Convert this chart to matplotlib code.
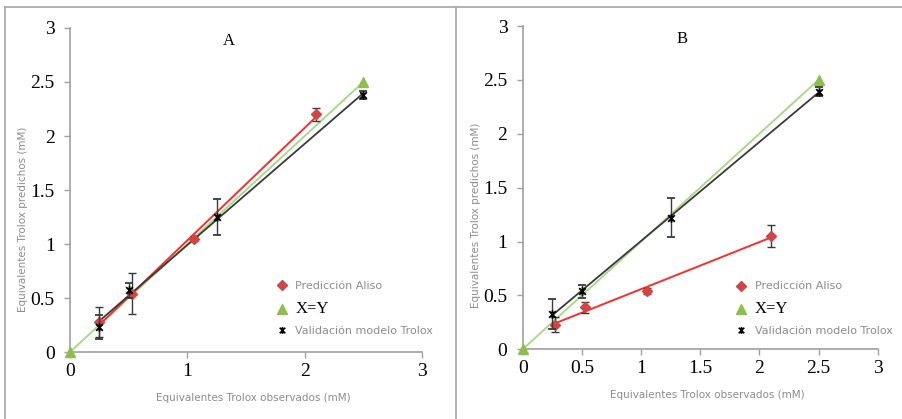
import numpy as np
import matplotlib
matplotlib.use("Agg")
import matplotlib.pyplot as plt
from matplotlib.path import Path
from matplotlib.lines import Line2D

# ---------------- data ----------------
# Panel A
a_pred_x = [0.25, 0.53, 1.06, 2.10]
a_pred_y = [0.28, 0.54, 1.05, 2.20]
a_pred_err = [0.14, 0.19, 0.02, 0.06]

a_val_x = [0.25, 0.50, 1.25, 2.50]
a_val_y = [0.23, 0.57, 1.25, 2.38]
a_val_err = [0.11, 0.07, 0.17, 0.04]

# Panel B
b_pred_x = [0.27, 0.53, 1.05, 2.10]
b_pred_y = [0.23, 0.39, 0.54, 1.05]
b_pred_err = [0.07, 0.05, 0.03, 0.10]

b_val_x = [0.25, 0.50, 1.25, 2.50]
b_val_y = [0.33, 0.54, 1.22, 2.39]
b_val_err = [0.14, 0.06, 0.18, 0.04]

xy_x = [0.0, 2.5]
xy_y = [0.0, 2.5]

labels = ["Predicción Aliso", "X=Y", "Validación modelo Trolox"]
panel_titles = ["A", "B"]
xlabel = "Equivalentes Trolox observados (mM)"
ylabel = "Equivalentes Trolox predichos (mM)"
a_xticks = [0, 1, 2, 3]
b_xticks = [0, 0.5, 1, 1.5, 2, 2.5, 3]
yticks = [0, 0.5, 1, 1.5, 2, 2.5, 3]

# ---------------- style ----------------
RED_LINE = "#ff2a2a"
RED_MK = "#d04545"
GREEN_LINE = "#a9d98b"
GREEN_MK = "#8cbf4f"
DARK = "#3a3a3a"
GRAY = "#8c8c8c"

star = Path([(-1, -1), (1, 1), (-1, 1), (1, -1), (0, -1.25), (0, 1.25)],
            [Path.MOVETO, Path.LINETO, Path.MOVETO, Path.LINETO, Path.MOVETO, Path.LINETO])

fig = plt.figure(figsize=(9.03, 4.19), dpi=100)
W, H = 903, 419

# panel borders
fig.add_artist(Line2D([5 / W, 1], [1 - 7 / H, 1 - 7 / H], color="#a6a6a6", lw=1.2, transform=fig.transFigure))
fig.add_artist(Line2D([5 / W, 5 / W], [0, 1 - 7 / H], color="#a6a6a6", lw=1.2, transform=fig.transFigure))
fig.add_artist(Line2D([456 / W, 456 / W], [0, 1 - 7 / H], color="#a6a6a6", lw=1.2, transform=fig.transFigure))

axA = fig.add_axes([70 / W, 1 - 352 / H, 352 / W, 324 / H])
axB = fig.add_axes([522.7 / W, 1 - 349.3 / H, 355 / W, 323.3 / H])


def fit_line(x, y):
    k, b = np.polyfit(x, y, 1)
    xs = np.array([min(x), max(x)])
    return xs, k * xs + b


def draw(ax, px, py, pe, vx, vy, ve, xticks, title, leg_anchor, ylab_coords):
    # X=Y
    ax.plot(xy_x, xy_y, color=GREEN_LINE, lw=1.4, zorder=2)
    ax.plot(xy_x, xy_y, ls="none", marker="^", ms=7, color=GREEN_MK, zorder=4, clip_on=False)
    # prediction
    fx, fy = fit_line(px, py)
    ax.plot(fx, fy, color=RED_LINE, lw=1.4, zorder=3)
    ax.errorbar(px, py, yerr=pe, ls="none", marker="D", ms=5, mfc=RED_MK, mec=RED_MK,
                ecolor=DARK, elinewidth=1.0, capsize=3, capthick=1.0, zorder=5)
    # validation
    gx, gy = fit_line(vx, vy)
    ax.plot(gx, gy, color=DARK, lw=1.3, zorder=3)
    ax.errorbar(vx, vy, yerr=ve, ls="none", marker=star, ms=6, mfc="none", mec="black", mew=1.3,
                ecolor=DARK, elinewidth=1.0, capsize=3, capthick=1.0, zorder=6)

    ax.set_xlim(0, 3)
    ax.set_ylim(0, 3)
    ax.set_xticks(xticks)
    ax.set_yticks(yticks)
    ax.set_xticklabels([f"{t:g}" for t in xticks])
    ax.set_yticklabels([f"{t:g}" for t in yticks])
    for s in ["top", "right"]:
        ax.spines[s].set_visible(False)
    for s in ["left", "bottom"]:
        ax.spines[s].set_color("#a0a0a0")
        ax.spines[s].set_linewidth(1.2)
    ax.tick_params(axis="both", direction="out", length=4, color="#a0a0a0", width=1.0,
                   labelsize=14, labelcolor="black")
    ax.tick_params(axis="y", pad=7)
    ax.tick_params(axis="x", pad=4)
    for lab in ax.get_xticklabels() + ax.get_yticklabels():
        lab.set_fontfamily("Liberation Serif")

    ax.set_xlabel(xlabel, fontsize=7.5, color=GRAY, family="DejaVu Sans")
    ax.xaxis.set_label_coords(0.52, -0.127)
    ax.set_ylabel(ylabel, fontsize=7.5, color=GRAY, family="DejaVu Sans")
    ax.yaxis.set_label_coords(*ylab_coords)

    ax.text(0.45, 0.96, title, transform=ax.transAxes, ha="center", va="center",
            fontsize=12, family="Liberation Serif")

    handles = [
        Line2D([], [], ls="none", marker="D", ms=5, mfc=RED_MK, mec=RED_MK),
        Line2D([], [], ls="none", marker="^", ms=6.5, color=GREEN_MK),
        Line2D([], [], ls="none", marker=star, ms=5, mfc="none", mec="black", mew=1.2),
    ]
    leg = ax.legend(handles, labels, loc="upper left", bbox_to_anchor=leg_anchor, frameon=False,
                    fontsize=8, handlelength=0.8, handletextpad=0.8, labelspacing=0.85,
                    borderaxespad=0, borderpad=0)
    for i, t in enumerate(leg.get_texts()):
        if i == 1:
            t.set_fontfamily("Liberation Serif")
            t.set_fontsize(12)
            t.set_color("black")
        else:
            t.set_color(GRAY)
            t.set_fontfamily("DejaVu Sans")


draw(axA, a_pred_x, a_pred_y, a_pred_err, a_val_x, a_val_y, a_val_err, a_xticks, panel_titles[0],
     (0.59, 0.218), (-0.118, 0.41))
draw(axB, b_pred_x, b_pred_y, b_pred_err, b_val_x, b_val_y, b_val_err, b_xticks, panel_titles[1],
     (0.603, 0.21), (-0.118, 0.415))

fig.savefig("out.png", dpi=100)
